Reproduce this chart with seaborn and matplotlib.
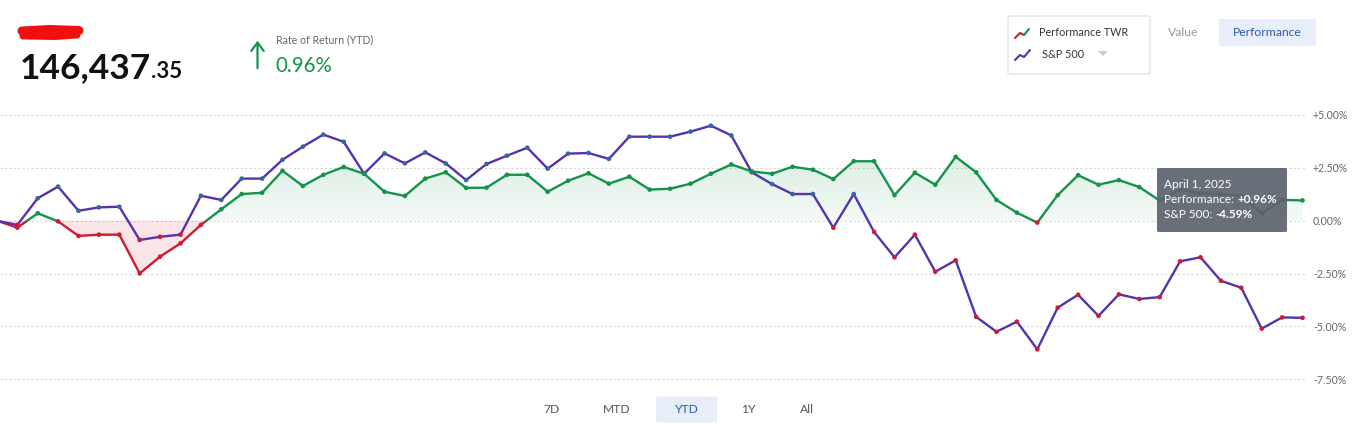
import numpy as np
import pandas as pd
import matplotlib
matplotlib.use("Agg")
import matplotlib.pyplot as plt
import seaborn as sns
from matplotlib.patches import Rectangle, FancyBboxPatch, Polygon
from matplotlib.lines import Line2D
from matplotlib.path import Path

# ---------------- data ----------------
day_index = list(range(65))  # Dec 31 baseline + 64 trading sessions to April 1, 2025
performance_twr = [
    0.00,
    -0.33, 0.35, -0.03, -0.72, -0.66, -0.66, -2.49, -1.70, -1.07, -0.20,
    0.54, 1.26, 1.32, 2.36, 1.64, 2.17, 2.54, 2.22, 1.37, 1.17,
    1.99, 2.29, 1.55, 1.56, 2.17, 2.17, 1.37, 1.89, 2.24, 1.75,
    2.08, 1.47, 1.51, 1.75, 2.22, 2.66, 2.33, 2.22, 2.55, 2.41,
    1.97, 2.81, 2.81, 1.21, 2.27, 1.70, 3.02, 2.29, 0.98, 0.38,
    -0.09, 1.21, 2.15, 1.70, 1.92, 1.59, 0.95, 1.48, 1.29, 1.25,
    1.17, 0.35, 0.98, 0.96,
]
sp500 = [
    0.00,
    -0.20, 1.06, 1.61, 0.47, 0.63, 0.66, -0.91, -0.76, -0.66, 1.18,
    0.98, 1.99, 1.99, 2.88, 3.50, 4.07, 3.73, 2.22, 3.18, 2.71,
    3.23, 2.71, 1.92, 2.68, 3.07, 3.45, 2.46, 3.17, 3.20, 2.92,
    3.97, 3.97, 3.97, 4.21, 4.49, 4.03, 2.29, 1.73, 1.26, 1.26,
    -0.33, 1.26, -0.53, -1.73, -0.66, -2.41, -1.87, -4.54, -5.25, -4.77,
    -6.08, -4.11, -3.50, -4.50, -3.48, -3.70, -3.61, -1.92, -1.73, -2.84,
    -3.17, -5.10, -4.57, -4.59,
]
y_ticks = [5.0, 2.5, 0.0, -2.5, -5.0, -7.5]
y_tick_labels = ["+5.00%", "+2.50%", "0.00%", "-2.50%", "-5.00%", "-7.50%"]
range_buttons = ["7D", "MTD", "YTD", "1Y", "All"]
active_range = "YTD"
portfolio_value_int = "146,437"
portfolio_value_dec = ".35"
return_title = "Rate of Return (YTD)"
return_value = "0.96%"
legend_labels = ["Performance TWR", "S&P 500"]
toggle_labels = ["Value", "Performance"]
tooltip_date = "April 1, 2025"
tooltip_perf_value = "+0.96%"
tooltip_sp_value = "-4.59%"

# ---------------- styling ----------------
GREEN = "#15934b"
RED = "#d01a2e"
PURPLE = "#5432b0"
BLUE_DOT = "#34679a"
BLUE_TXT = "#2b5ca8"

W, H = 1359, 437
sns.set_theme(style="white")
plt.rcParams["font.family"] = ["Lato", "DejaVu Sans"]

fig = plt.figure(figsize=(W / 100, H / 100), dpi=100)
fig.patch.set_facecolor("white")


def fx(x):
    return x / W


def fy(y):
    return 1 - y / H


# plot area: pixel x 0..1306, y 108..385
ax = fig.add_axes([0, fy(385), fx(1306), (385 - 108) / H])
ax.set_facecolor("none")

df = pd.DataFrame({"day": day_index, "perf": performance_twr, "sp": sp500})
x = df["day"].to_numpy()
perf = df["perf"].to_numpy()
sp = df["sp"].to_numpy()

X0, X1 = 3.1 / 20.4, (1306 + 3.1) / 20.4
Y0, Y1 = -7.765, 5.326

# fills: green gradient above zero, light red below zero
green_poly = ax.fill_between(x, perf, 0, where=perf >= 0, interpolate=True,
                             facecolor="none", edgecolor="none", zorder=1)
grad = np.zeros((100, 2, 4))
grad[..., :3] = matplotlib.colors.to_rgb(GREEN)
grad[..., 3] = np.linspace(0.16, 0.05, 100)[:, None]
im = ax.imshow(grad, extent=[X0 - 1, X1 + 1, 0, 3.2], origin="upper",
               aspect="auto", zorder=1, interpolation="bilinear")
im.set_clip_path(Path.make_compound_path(*green_poly.get_paths()), ax.transData)
ax.fill_between(x, perf, 0, where=perf <= 0, interpolate=True,
                color=RED, alpha=0.11, lw=0, zorder=1)

# performance line: green above zero, red below
sns.lineplot(data=df, x="day", y="perf", color=GREEN, lw=1.7, ax=ax, zorder=2)
line_up = ax.lines[-1]
sns.lineplot(data=df, x="day", y="perf", color=RED, lw=1.7, ax=ax, zorder=2)
line_dn = ax.lines[-1]
line_up.set_clip_path(Rectangle((-10, 0), 200, 100, transform=ax.transData))
line_dn.set_clip_path(Rectangle((-10, -100), 200, 100, transform=ax.transData))

# S&P 500 line
sns.lineplot(data=df, x="day", y="sp", color=PURPLE, lw=1.7, ax=ax, zorder=3)

# markers coloured by sign
df["sp_sign"] = np.where(sp < 0, "neg", "pos")
df["perf_sign"] = np.where(perf < 0, "neg", "pos")
sns.scatterplot(data=df, x="day", y="sp", hue="sp_sign",
                palette={"neg": RED, "pos": BLUE_DOT}, s=11, linewidth=0,
                legend=False, ax=ax, zorder=4)
sns.scatterplot(data=df, x="day", y="perf", hue="perf_sign",
                palette={"neg": RED, "pos": GREEN}, s=11, linewidth=0,
                legend=False, ax=ax, zorder=5)

ax.set_xlim(X0, X1)
ax.set_ylim(Y0, Y1)
ax.set_xticks([])
ax.set_yticks(y_ticks)
ax.set_yticklabels(y_tick_labels)
ax.yaxis.tick_right()
ax.tick_params(axis="y", length=0, pad=5, labelsize=7.6, labelcolor="#666666")
ax.yaxis.grid(True, color="#d8d8d8", linestyle=(0, (2, 2)), lw=0.8)
ax.xaxis.grid(False)
ax.set_axisbelow(True)
for s in ax.spines.values():
    s.set_visible(False)
ax.set_xlabel("")
ax.set_ylabel("")

renderer = fig.canvas.get_renderer()


def after(t):
    return fx(t.get_window_extent(renderer).x1)


# ---------------- header ----------------
fig.add_artist(Line2D([fx(22), fx(50), fx(79)], [fy(31), fy(29.5), fy(30.5)],
                      color="#f01010", lw=6.5, solid_capstyle="round"))
fig.add_artist(Line2D([fx(23), fx(55), fx(77)], [fy(36), fy(36.5), fy(35)],
                      color="#f01010", lw=5, solid_capstyle="round"))
t = fig.text(fx(20), fy(78), portfolio_value_int, fontsize=25.5, weight="bold",
             color="#111111", va="baseline")
fig.text(after(t), fy(78), portfolio_value_dec, fontsize=16, weight="bold",
         color="#111111", va="baseline")

fig.add_artist(matplotlib.patches.FancyArrowPatch(
    (fx(257.5), fy(71)), (fx(257.5), fy(38)), transform=fig.transFigure,
    arrowstyle="->,head_length=6,head_width=4.5", lw=1.6, color=GREEN,
    mutation_scale=1))
fig.text(fx(275.5), fy(43), return_title, fontsize=7.6, color="#666666",
         va="baseline")
fig.text(fx(275.5), fy(72.5), return_value, fontsize=14.8, color=GREEN,
         va="baseline")

# legend box
fig.add_artist(FancyBboxPatch((fx(1008), fy(74)), fx(142), 58 / H,
                              boxstyle="round,pad=0,rounding_size=0.002",
                              transform=fig.transFigure, facecolor="white",
                              edgecolor="#dddddd", lw=0.8))
fig.add_artist(Line2D([fx(1015), fx(1020), fx(1024)], [fy(38), fy(33), fy(35)],
                      color=RED, lw=1.5))
fig.add_artist(Line2D([fx(1024), fx(1029)], [fy(35), fy(29)], color=GREEN, lw=1.5))
fig.add_artist(Line2D([fx(1015), fx(1020), fx(1024), fx(1030)],
                      [fy(60), fy(55), fy(57), fy(50)], color=PURPLE, lw=1.5))
fig.text(fx(1039), fy(32.5), legend_labels[0], fontsize=7.8, color="#333333",
         va="center")
fig.text(fx(1042), fy(54), legend_labels[1], fontsize=7.8, color="#333333",
         va="center")
fig.add_artist(Polygon([[fx(1098), fy(51)], [fx(1108), fy(51)], [fx(1103), fy(56)]],
                       closed=True, transform=fig.transFigure,
                       facecolor="#cccccc", edgecolor="none"))

fig.text(fx(1183), fy(33), toggle_labels[0], fontsize=8.7, color="#999999",
         va="center", ha="center")
fig.add_artist(FancyBboxPatch((fx(1219), fy(46)), fx(97), 27 / H,
                              boxstyle="round,pad=0,rounding_size=0.002",
                              transform=fig.transFigure, facecolor="#e7eef9",
                              edgecolor="none"))
fig.text(fx(1267.5), fy(33), toggle_labels[1], fontsize=8.7, color=BLUE_TXT,
         va="center", ha="center")

# range buttons
btn_x = [551.5, 616.5, 686.5, 748.5, 806.5]
for lbl, bx in zip(range_buttons, btn_x):
    if lbl == active_range:
        fig.add_artist(FancyBboxPatch((fx(656), fy(422.5)), fx(61), 26 / H,
                                      boxstyle="round,pad=0,rounding_size=0.002",
                                      transform=fig.transFigure,
                                      facecolor="#e7eef9", edgecolor="none"))
    fig.text(fx(bx), fy(409.5), lbl, fontsize=8.7,
             color=BLUE_TXT if lbl == active_range else "#555555",
             ha="center", va="center")

# tooltip
fig.add_artist(FancyBboxPatch((fx(1157), fy(232)), fx(130), 64 / H,
                              boxstyle="round,pad=0,rounding_size=0.002",
                              transform=fig.transFigure, facecolor="#5c636d",
                              alpha=0.92, edgecolor="none", zorder=10))
fig.text(fx(1164), fy(184), tooltip_date, fontsize=8.5, color="white",
         va="center", zorder=11)
t1 = fig.text(fx(1164), fy(199.5), "Performance: ", fontsize=8.5, color="white",
              va="center", zorder=11)
fig.text(after(t1), fy(199.5), tooltip_perf_value, fontsize=8.5, color="white",
         weight="bold", va="center", zorder=11)
t2 = fig.text(fx(1164), fy(214), "S&P 500: ", fontsize=8.5, color="white",
              va="center", zorder=11)
fig.text(after(t2), fy(214), tooltip_sp_value, fontsize=8.5, color="white",
         weight="bold", va="center", zorder=11)

fig.savefig("out.png", dpi=100, facecolor="white")
